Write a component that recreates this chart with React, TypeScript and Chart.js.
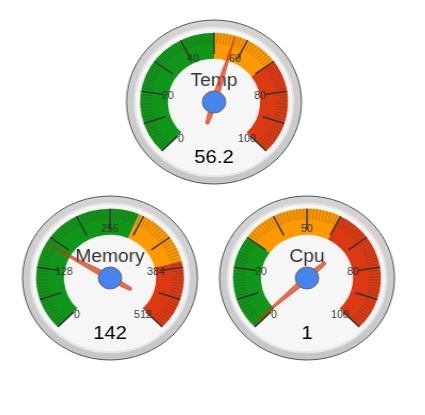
import React, { useEffect, useRef } from "react";
import { Chart, registerables } from "chart.js";

Chart.register(...registerables);

// ---- data ----
const gaugeNames = ["Temp", "Memory", "Cpu"];
const gaugeValues = [56.2, 142, 1];
const gaugeMins = [0, 0, 0];
const gaugeMaxes = [100, 512, 100];
const greenTo = [50, 300, 30];
const yellowTo = [70, 400, 60];
const tickLabels = [
  ["0", "20", "40", "60", "80", "100"],
  ["0", "128", "256", "384", "512"],
  ["0", "20", "50", "80", "100"],
];
const tickLabelValues = [
  [0, 20, 40, 60, 80, 100],
  [0, 102.4, 256, 409.6, 512],
  [0, 20, 50, 80, 100],
];

// ---- layout / style ----
const CENTERS = [
  [214, 101.5],
  [110, 278],
  [306.5, 278],
];
const R = 82.5;
const SIZE = 172;
const SX = 1.067;
const GREEN = "#109618";
const YELLOW = "#FF9900";
const RED = "#DC3912";
const FONT = "Arial, 'Liberation Sans', sans-serif";

function makeGaugePlugin(idx: number) {
  const min = gaugeMins[idx];
  const max = gaugeMaxes[idx];
  const angleOf = (chart: any, v: number) => {
    const meta = chart.getDatasetMeta(0);
    const s = meta.data[0].startAngle;
    const e = meta.data[2].endAngle;
    return s + ((v - min) / (max - min)) * (e - s);
  };
  return {
    id: "gauge" + idx,
    beforeDatasetsDraw(chart: any) {
      const ctx = chart.ctx;
      const arc = chart.getDatasetMeta(0).data[0];
      const cx = arc.x, cy = arc.y;
      ctx.save();
      // outer bezel
      ctx.beginPath();
      ctx.arc(cx, cy, R - 0.5, 0, Math.PI * 2);
      const g = ctx.createLinearGradient(0, cy - R, 0, cy + R);
      g.addColorStop(0, "#d4d4d4");
      g.addColorStop(1, "#c6c6c6");
      ctx.fillStyle = g;
      ctx.fill();
      ctx.lineWidth = 1;
      ctx.strokeStyle = "#555";
      ctx.stroke();
      // face
      ctx.beginPath();
      ctx.arc(cx, cy, R * 0.9, 0, Math.PI * 2);
      ctx.fillStyle = "#f6f6f6";
      ctx.fill();
      ctx.lineWidth = 2;
      ctx.strokeStyle = "#e6e6e6";
      ctx.stroke();
      ctx.restore();
    },
    afterDatasetsDraw(chart: any) {
      const ctx = chart.ctx;
      const arc = chart.getDatasetMeta(0).data[0];
      const cx = arc.x, cy = arc.y;
      const rOut = arc.outerRadius;
      const rIn = arc.innerRadius;
      const bw = rOut - rIn;
      ctx.save();
      // ticks
      for (let i = 0; i <= 100; i++) {
        const a = angleOf(chart, min + (i / 100) * (max - min));
        const major = i % 10 === 0;
        const r1 = rOut;
        const r2 = major ? rOut - bw * 0.82 : rOut - bw * 0.42;
        ctx.beginPath();
        ctx.moveTo(cx + Math.cos(a) * r1, cy + Math.sin(a) * r1);
        ctx.lineTo(cx + Math.cos(a) * r2, cy + Math.sin(a) * r2);
        ctx.lineWidth = major ? 1.5 : 0.8;
        ctx.strokeStyle = major ? "#333" : "rgba(60,60,60,0.4)";
        ctx.stroke();
      }
      // tick labels
      ctx.fillStyle = "#333";
      ctx.font = `10px ${FONT}`;
      ctx.textAlign = "center";
      ctx.textBaseline = "middle";
      const lrx = R * 0.53;
      const lry = R * 0.61;
      tickLabels[idx].forEach((t, k) => {
        const a = angleOf(chart, tickLabelValues[idx][k]);
        ctx.fillText(t, cx + Math.cos(a) * lrx, cy + Math.sin(a) * lry + 2);
      });
      // title
      ctx.fillStyle = "#333";
      ctx.font = `18px ${FONT}`;
      ctx.textBaseline = "alphabetic";
      ctx.fillText(gaugeNames[idx], cx, cy - R * 0.2);
      // value
      ctx.fillStyle = "#000";
      ctx.font = `19px ${FONT}`;
      ctx.fillText(String(gaugeValues[idx]), cx, cy + R * 0.74);
      // needle
      const a = angleOf(chart, gaugeValues[idx]);
      const ux = Math.cos(a), uy = Math.sin(a);
      const nx = -uy, ny = ux;
      const tip = R * 0.82, tail = R * 0.27, w = R * 0.038;
      ctx.beginPath();
      ctx.moveTo(cx + ux * tip, cy + uy * tip);
      ctx.lineTo(cx + nx * w, cy + ny * w);
      ctx.lineTo(cx - ux * tail + nx * w * 0.5, cy - uy * tail + ny * w * 0.5);
      ctx.lineTo(cx - ux * (tail + 1), cy - uy * (tail + 1));
      ctx.lineTo(cx - ux * tail - nx * w * 0.5, cy - uy * tail - ny * w * 0.5);
      ctx.lineTo(cx - nx * w, cy - ny * w);
      ctx.closePath();
      ctx.fillStyle = "rgba(220,57,18,0.72)";
      ctx.fill();
      ctx.lineWidth = 0.6;
      ctx.strokeStyle = "#c63310";
      ctx.stroke();
      // pivot
      ctx.beginPath();
      ctx.arc(cx, cy, R * 0.133, 0, Math.PI * 2);
      ctx.fillStyle = "#4684ee";
      ctx.fill();
      ctx.lineWidth = 1;
      ctx.strokeStyle = "#666";
      ctx.stroke();
      ctx.restore();
    },
  };
}

function Gauge({ idx }: { idx: number }) {
  const ref = useRef<HTMLCanvasElement | null>(null);
  useEffect(() => {
    if (!ref.current) return;
    const min = gaugeMins[idx];
    const max = gaugeMaxes[idx];
    const chart = new Chart(ref.current, {
      type: "doughnut",
      data: {
        labels: ["green", "yellow", "red", "gap"],
        datasets: [
          {
            data: [
              greenTo[idx] - min,
              yellowTo[idx] - greenTo[idx],
              max - yellowTo[idx],
              (max - min) / 3,
            ],
            backgroundColor: [GREEN, YELLOW, RED, "rgba(0,0,0,0)"],
            borderWidth: 0,
          },
        ],
      },
      options: {
        animation: false,
        responsive: false,
        events: [],
        rotation: -135,
        circumference: 360,
        radius: R * 0.84,
        cutout: R * 0.65,
        layout: { padding: 0 },
        plugins: { legend: { display: false }, tooltip: { enabled: false } },
      } as any,
      plugins: [makeGaugePlugin(idx)],
    });
    return () => chart.destroy();
  }, [idx]);
  const [cx, cy] = CENTERS[idx];
  return (
    <div
      style={{
        position: "absolute",
        left: cx - SIZE / 2,
        top: cy - SIZE / 2,
        width: SIZE,
        height: SIZE,
        transform: `scaleX(${SX})`,
        transformOrigin: "50% 50%",
      }}
    >
      <canvas ref={ref} width={SIZE} height={SIZE} />
    </div>
  );
}

export default function App() {
  return (
    <div
      style={{
        position: "absolute",
        left: 0,
        top: 0,
        width: 425,
        height: 415,
        background: "#fff",
      }}
    >
      {gaugeNames.map((_, i) => (
        <Gauge key={i} idx={i} />
      ))}
    </div>
  );
}
